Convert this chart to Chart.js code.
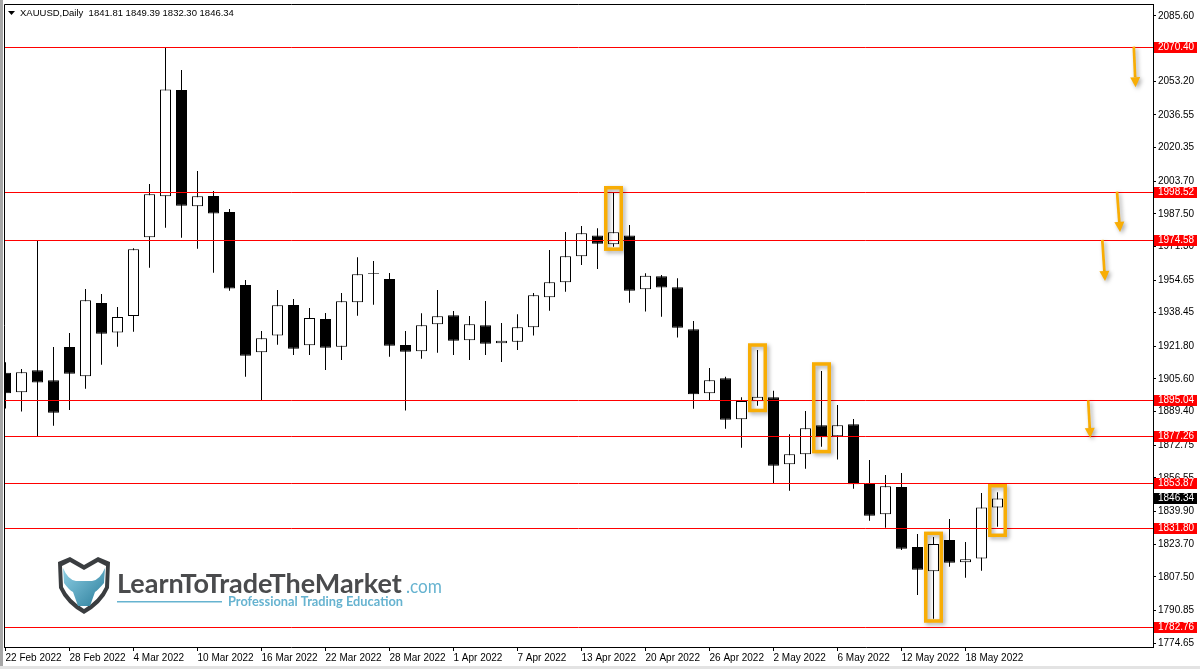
<!DOCTYPE html>
<html>
<head>
<meta charset="utf-8">
<script src="https://cdn.jsdelivr.net/npm/chart.js@4.4.0/dist/chart.umd.min.js"></script>
<style>
  html, body { margin: 0; padding: 0; background: #fff; }
  #wrap { position: relative; width: 1200px; height: 669px; }
</style>
</head>
<body>
<div id="wrap"><canvas id="myChart" width="1200" height="669"></canvas></div>
<script>
// XAUUSD daily candles, 22 Feb 2022 - 20 May 2022
const dates = [
  '22 Feb 2022', '23 Feb 2022', '24 Feb 2022', '25 Feb 2022', '28 Feb 2022',
  '1 Mar 2022', '2 Mar 2022', '3 Mar 2022', '4 Mar 2022', '7 Mar 2022',
  '8 Mar 2022', '9 Mar 2022', '10 Mar 2022', '11 Mar 2022', '14 Mar 2022',
  '15 Mar 2022', '16 Mar 2022', '17 Mar 2022', '18 Mar 2022', '21 Mar 2022',
  '22 Mar 2022', '23 Mar 2022', '24 Mar 2022', '25 Mar 2022', '28 Mar 2022',
  '29 Mar 2022', '30 Mar 2022', '31 Mar 2022', '1 Apr 2022', '4 Apr 2022',
  '5 Apr 2022', '6 Apr 2022', '7 Apr 2022', '8 Apr 2022', '11 Apr 2022',
  '12 Apr 2022', '13 Apr 2022', '14 Apr 2022', '18 Apr 2022', '19 Apr 2022',
  '20 Apr 2022', '21 Apr 2022', '22 Apr 2022', '25 Apr 2022', '26 Apr 2022',
  '27 Apr 2022', '28 Apr 2022', '29 Apr 2022', '2 May 2022', '3 May 2022',
  '4 May 2022', '5 May 2022', '6 May 2022', '9 May 2022', '10 May 2022',
  '11 May 2022', '12 May 2022', '13 May 2022', '16 May 2022', '17 May 2022',
  '18 May 2022', '19 May 2022', '20 May 2022'
];
const opens = [
  1908.7, 1899.0, 1909.9, 1904.9, 1921.4, 1906.9, 1943.3, 1928.7, 1936.8, 1975.9,
  1996.2, 2048.9, 1991.2, 1996.3, 1988.4, 1952.2, 1918.8, 1927.2, 1942.3, 1922.3,
  1935.3, 1921.6, 1943.6, 1958.2, 1955.2, 1922.4, 1919.3, 1932.7, 1937.2, 1924.8,
  1932.2, 1923.3, 1924.1, 1931.2, 1946.1, 1953.5, 1966.4, 1976.8, 1972.4, 1976.8,
  1950.1, 1956.5, 1951.1, 1930.2, 1898.5, 1905.9, 1885.6, 1894.5, 1896.5, 1863.3,
  1868.2, 1882.6, 1877.2, 1883.1, 1853.5, 1838.5, 1852.0, 1822.3, 1810.2, 1825.7,
  1814.7, 1816.5, 1841.81
];
const highs = [
  1913.9, 1910.5, 1974.2, 1921.4, 1928.4, 1950.2, 1947.7, 1941.3, 1970.4, 2002.3,
  2070.1, 2058.8, 2008.7, 1998.8, 1989.9, 1954.7, 1929.4, 1949.7, 1945.3, 1940.8,
  1938.3, 1948.2, 1965.9, 1964.1, 1958.1, 1929.4, 1938.2, 1949.7, 1939.3, 1936.8,
  1944.3, 1933.4, 1937.7, 1948.2, 1969.6, 1978.5, 1981.5, 1980.3, 1998.0, 1981.9,
  1958.0, 1957.2, 1955.5, 1934.3, 1911.0, 1906.7, 1896.5, 1920.0, 1899.8, 1878.2,
  1889.7, 1909.5, 1892.7, 1885.7, 1865.4, 1858.0, 1859.0, 1828.7, 1827.2, 1836.2,
  1824.7, 1849.0, 1849.39
];
const lows = [
  1891.0, 1889.4, 1877.0, 1882.4, 1890.2, 1900.8, 1912.7, 1921.6, 1929.0, 1960.8,
  1980.6, 1975.6, 1970.2, 1958.3, 1949.4, 1906.7, 1895.2, 1922.6, 1917.5, 1917.5,
  1910.0, 1915.0, 1937.0, 1942.4, 1916.6, 1889.9, 1915.6, 1918.6, 1917.5, 1915.0,
  1917.5, 1914.0, 1920.0, 1927.1, 1939.4, 1948.9, 1962.1, 1960.1, 1971.2, 1943.4,
  1939.0, 1936.5, 1926.1, 1890.8, 1895.2, 1880.9, 1871.5, 1892.3, 1853.9, 1850.2,
  1861.1, 1872.0, 1865.6, 1851.2, 1835.3, 1831.8, 1820.8, 1798.5, 1786.7, 1812.5,
  1807.0, 1810.5, 1832.30
];
const closes = [
  1898.5, 1908.9, 1903.9, 1888.9, 1908.2, 1944.6, 1928.0, 1936.3, 1969.9, 1997.2,
  2049.2, 1991.5, 1996.2, 1987.6, 1950.4, 1917.1, 1925.8, 1942.1, 1920.6, 1935.8,
  1921.1, 1944.1, 1957.5, 1957.8, 1922.1, 1919.1, 1932.2, 1936.7, 1924.6, 1932.7,
  1923.1, 1924.6, 1931.2, 1947.1, 1953.5, 1966.4, 1977.8, 1972.7, 1978.3, 1949.4,
  1956.8, 1950.9, 1931.0, 1898.0, 1904.9, 1885.4, 1894.7, 1896.8, 1862.6, 1868.2,
  1881.1, 1876.7, 1882.6, 1853.4, 1837.8, 1852.4, 1821.4, 1811.0, 1823.8, 1814.5,
  1816.2, 1841.9, 1846.34
];

// price axis labels as printed by the terminal
const yTicks = [2085.60, 2069.40, 2053.20, 2036.55, 2020.35, 2003.70, 1987.50, 1971.30,
  1954.65, 1938.45, 1921.80, 1905.60, 1889.40, 1872.75, 1856.55, 1839.90, 1823.70,
  1807.50, 1790.85, 1774.65];

// horizontal levels (red) and current price tag
const levels = [2070.40, 1998.52, 1974.58, 1895.04, 1877.26, 1853.87, 1831.80, 1782.76];
const lastPrice = 1846.34;

// orange highlight boxes: candle index + top / bottom price
const boxIdx = [38, 47, 51, 58, 62];
const boxTop = [2001.3, 1923.3, 1913.9, 1829.9, 1853.5];
const boxBottom = [1969.1, 1889.1, 1868.7, 1784.7, 1827.2];

// orange arrows: start at a level, point down
const arrowX1 = [70.52, 69.47, 68.55, 67.67];
const arrowX2 = [70.63, 69.66, 68.72, 67.8];
const arrowFrom = [2070.4, 1998.52, 1974.58, 1895.04];
const arrowTo = [2050.3, 1978.5, 1954.2, 1876.3];

const ORANGE = '#F8AD05';
const FONT = 'Liberation Sans';

function drawLogo(ctx) {
  ctx.save();
  // shield
  ctx.beginPath();
  ctx.moveTo(58, 562); ctx.lineTo(70, 557); ctx.lineTo(84, 565); ctx.lineTo(98, 557); ctx.lineTo(110, 562);
  ctx.lineTo(109, 588); ctx.quadraticCurveTo(102, 604, 84, 614); ctx.quadraticCurveTo(66, 604, 59, 588);
  ctx.closePath();
  ctx.fillStyle = '#3a3d40'; ctx.fill();
  ctx.beginPath();
  ctx.moveTo(62, 566); ctx.lineTo(70, 562); ctx.lineTo(84, 570); ctx.lineTo(98, 562); ctx.lineTo(106, 566);
  ctx.lineTo(105, 587); ctx.quadraticCurveTo(99, 600, 84, 609); ctx.quadraticCurveTo(69, 600, 63, 587);
  ctx.closePath();
  ctx.fillStyle = '#fff'; ctx.fill();
  // bull head
  const g = ctx.createLinearGradient(64, 566, 104, 606);
  g.addColorStop(0, '#8fd0e6'); g.addColorStop(1, '#2d7f9c');
  ctx.beginPath();
  ctx.moveTo(63, 568); ctx.quadraticCurveTo(68, 580, 76, 581); ctx.lineTo(92, 581);
  ctx.quadraticCurveTo(100, 580, 105, 568); ctx.lineTo(104, 583); ctx.quadraticCurveTo(98, 590, 95, 592);
  ctx.lineTo(90, 606); ctx.lineTo(78, 606); ctx.lineTo(73, 592); ctx.quadraticCurveTo(69, 590, 64, 583);
  ctx.closePath();
  ctx.fillStyle = g; ctx.fill();
  // wordmark
  ctx.textBaseline = 'alphabetic'; ctx.textAlign = 'left';
  ctx.fillStyle = '#4a4b4d';
  ctx.font = 'bold 27px Lato';
  ctx.fillText('LearnToTradeTheMarket', 117, 593, 286);
  ctx.fillStyle = '#66b3d0';
  ctx.font = '19px Lato';
  ctx.fillText('.com', 406, 593, 36);
  ctx.fillRect(117, 601, 105, 1.5);
  ctx.font = 'bold 13px Lato';
  ctx.fillText('Professional Trading Education', 228, 606, 175);
  ctx.restore();
}

const overlay = {
  id: 'overlay',
  afterDatasetsDraw(chart) {
    const { ctx, chartArea: a, scales: { x, y } } = chart;
    ctx.save();
    ctx.beginPath(); ctx.rect(a.left, a.top, a.right - a.left, a.bottom - a.top); ctx.clip();
    // levels
    ctx.strokeStyle = '#ff0000'; ctx.lineWidth = 1;
    levels.forEach(v => {
      const py = Math.round(y.getPixelForValue(v)) + 0.5;
      ctx.beginPath(); ctx.moveTo(a.left, py); ctx.lineTo(a.right, py); ctx.stroke();
    });
    // boxes
    ctx.shadowColor = 'rgba(0,0,0,0.35)'; ctx.shadowBlur = 4; ctx.shadowOffsetX = 2; ctx.shadowOffsetY = 2;
    ctx.strokeStyle = ORANGE; ctx.lineWidth = 3.5;
    boxIdx.forEach((idx, k) => {
      const cx = x.getPixelForValue(idx);
      const t = y.getPixelForValue(boxTop[k]);
      const b = y.getPixelForValue(boxBottom[k]);
      ctx.strokeRect(cx - 9.5 + 1.75, t + 1.75, 19 - 3.5, b - t - 3.5);
    });
    // arrows
    ctx.fillStyle = ORANGE; ctx.lineWidth = 2.7; ctx.lineCap = 'butt';
    arrowFrom.forEach((v, k) => {
      const x1 = x.getPixelForValue(arrowX1[k]), y1 = y.getPixelForValue(v);
      const x2 = x.getPixelForValue(arrowX2[k]), y2 = y.getPixelForValue(arrowTo[k]);
      const ang = Math.atan2(y2 - y1, x2 - x1);
      const hl = 10, hw = 5;
      const bx = x2 - hl * Math.cos(ang), by = y2 - hl * Math.sin(ang);
      ctx.beginPath(); ctx.moveTo(x1, y1); ctx.lineTo(bx, by); ctx.stroke();
      ctx.beginPath();
      ctx.moveTo(x2, y2);
      ctx.lineTo(bx + hw * Math.sin(ang), by - hw * Math.cos(ang));
      ctx.lineTo(bx - hw * Math.sin(ang), by + hw * Math.cos(ang));
      ctx.closePath(); ctx.fill();
    });
    ctx.restore();
  },
  afterDraw(chart) {
    const { ctx, chartArea: a, scales: { y } } = chart;
    ctx.save();
    // frame
    ctx.fillStyle = '#a7a7a7'; ctx.fillRect(0, 0, 3, 669);
    ctx.fillStyle = '#e3e3e3'; ctx.fillRect(0, 666, 1200, 3);
    ctx.strokeStyle = '#000'; ctx.lineWidth = 1;
    ctx.beginPath();
    ctx.moveTo(a.left + 0.5, a.bottom); ctx.lineTo(a.left + 0.5, a.top + 0.5); ctx.lineTo(a.right, a.top + 0.5);
    ctx.stroke();
    // price tags
    ctx.font = '10px ' + FONT; ctx.textBaseline = 'middle'; ctx.textAlign = 'left';
    const tag = (v, bg) => {
      const py = Math.round(y.getPixelForValue(v));
      ctx.fillStyle = bg; ctx.fillRect(a.right + 1, py - 5, 43, 11);
      ctx.fillStyle = '#fff'; ctx.fillText(v.toFixed(2), a.right + 5, py + 0.5);
    };
    levels.forEach(v => tag(v, '#ff0000'));
    tag(lastPrice, '#000');
    // header
    ctx.fillStyle = '#000';
    ctx.beginPath(); ctx.moveTo(8, 11); ctx.lineTo(15, 11); ctx.lineTo(11.5, 15); ctx.closePath(); ctx.fill();
    ctx.font = '9.5px ' + FONT;
    ctx.fillText('XAUUSD,Daily  ' + opens[62].toFixed(2) + ' ' + highs[62].toFixed(2) + ' ' +
      lows[62].toFixed(2) + ' ' + closes[62].toFixed(2), 20, 13.5);
    ctx.restore();
    drawLogo(ctx);
  }
};

new Chart('myChart', {
  type: 'bar',
  data: {
    datasets: [{
      label: 'wick',
      data: dates.map((d, i) => ({ x: i, y: [lows[i], highs[i]] })),
      backgroundColor: '#000',
      borderWidth: 0,
      barThickness: 1,
      grouped: false,
      inflateAmount: 0,
      order: 2
    }, {
      label: 'body',
      data: dates.map((d, i) => ({ x: i, y: [opens[i], closes[i]] })),
      backgroundColor: c => closes[c.dataIndex] >= opens[c.dataIndex] ? '#fff' : '#000',
      borderColor: '#000',
      borderWidth: 1,
      borderSkipped: false,
      barThickness: 11,
      grouped: false,
      inflateAmount: 0,
      order: 1
    }]
  },
  options: {
    responsive: false,
    animation: false,
    layout: { padding: { left: 4, top: 4, right: 0, bottom: 0 } },
    plugins: { legend: { display: false }, tooltip: { enabled: false } },
    scales: {
      x: {
        type: 'linear',
        min: -0.09375,
        max: 71.71875,
        offset: false,
        afterBuildTicks: s => { s.ticks = dates.map((d, i) => i).filter(i => i % 4 === 0).map(v => ({ value: v })); },
        afterFit: s => { s.height = 22; s.paddingLeft = 0; s.paddingRight = 0; },
        grid: { drawOnChartArea: false, drawTicks: true, tickLength: 4, color: '#000', offset: false },
        border: { display: true, color: '#000', width: 1 },
        ticks: {
          align: 'start', maxRotation: 0, autoSkip: false, padding: 1, color: '#000',
          font: { family: FONT, size: 10 },
          callback: v => dates[v]
        }
      },
      y: {
        position: 'right',
        min: 1772.67,
        max: 2091.55,
        afterBuildTicks: s => { s.ticks = yTicks.map(v => ({ value: v })); },
        afterFit: s => { s.width = 47; s.paddingTop = 0; s.paddingBottom = 0; },
        grid: { drawOnChartArea: false, drawTicks: true, tickLength: 3, color: '#000' },
        border: { display: true, color: '#000', width: 1 },
        ticks: {
          color: '#000', padding: 2, autoSkip: false,
          font: { family: FONT, size: 10 },
          callback: v => Number(v).toFixed(2)
        }
      }
    }
  },
  plugins: [overlay]
});
</script>
</body>
</html>
